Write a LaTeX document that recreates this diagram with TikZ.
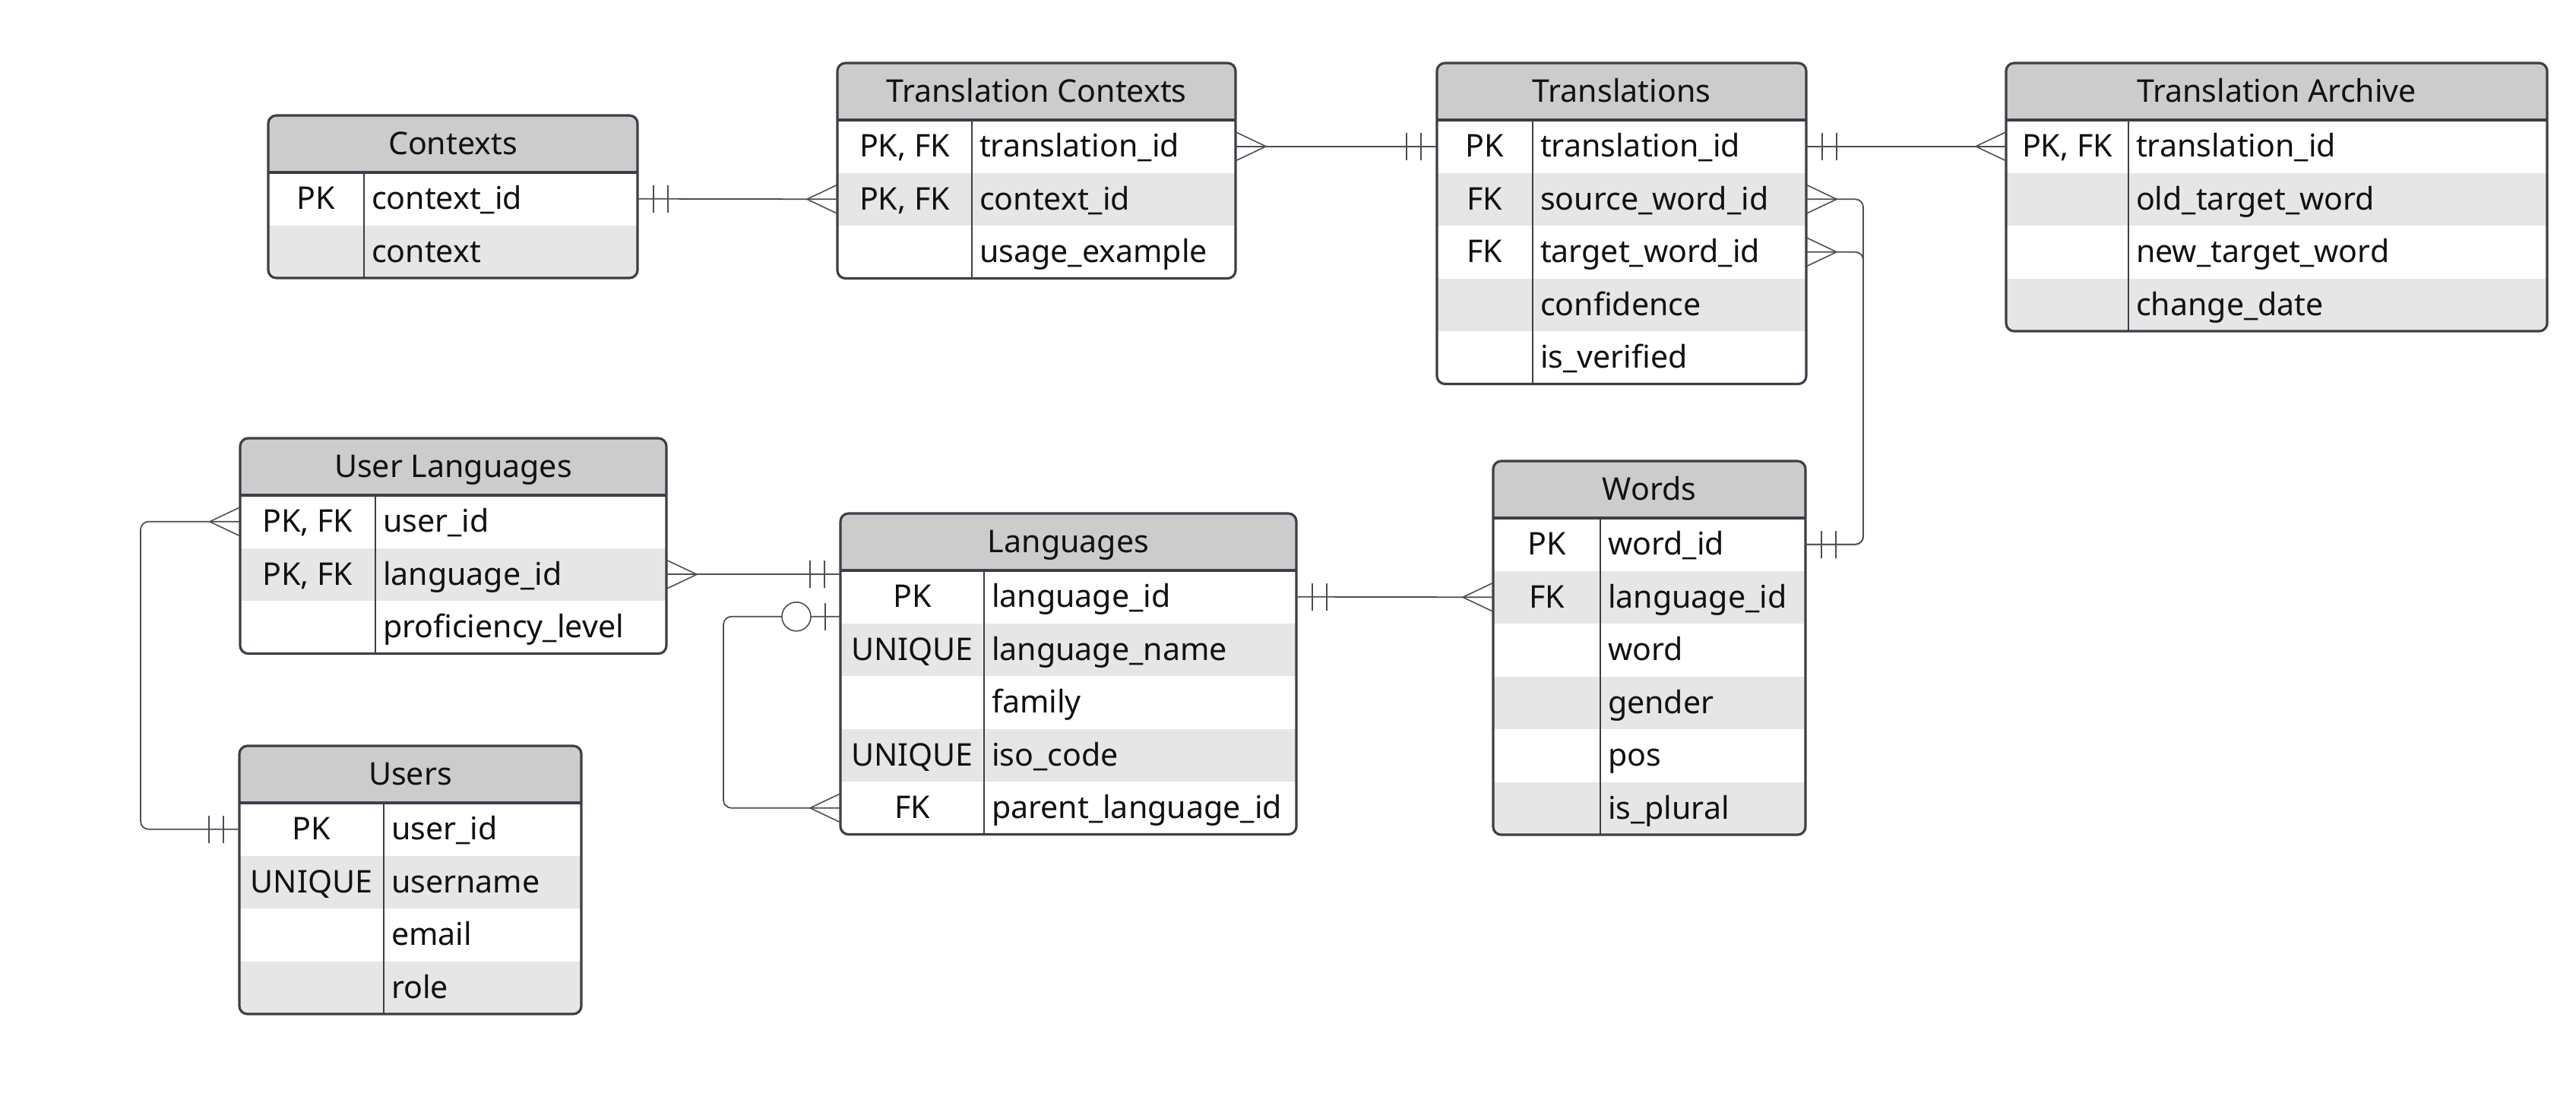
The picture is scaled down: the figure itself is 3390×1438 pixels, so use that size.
\documentclass[tikz,border=0pt]{standalone}
\usepackage{fontspec}
\setmainfont{Noto Sans}
\usetikzlibrary{calc}
\definecolor{bordc}{HTML}{3B3F47}
\definecolor{connc}{HTML}{4A4E55}
\definecolor{hdrfill}{HTML}{CCCCCC}
\definecolor{rowgray}{HTML}{E6E6E6}
\definecolor{txtc}{HTML}{111111}
\def\HH{75}
\def\RH{69.5}
\tikzset{
  tablebox/.style={draw=bordc, line width=0.9pt, rounded corners=3pt, inner sep=0pt, outer sep=0pt, fill=none},
  hdrline/.style={draw=bordc, line width=0.9pt},
  divline/.style={draw=bordc, line width=0.6pt},
  txt/.style={inner sep=0pt, outer sep=0pt, text height=0.80em, text depth=0pt, text=txtc, font=\fontsize{11.7}{13}\selectfont},
  conn/.style={draw=connc, line width=0.5pt, rounded corners=3pt},
  crowln/.style={draw=connc, line width=0.45pt},
  barln/.style={draw=connc, line width=0.45pt},
}
\newcommand\erdtable[7]{%
  \def\tN{#1}\def\tL{#2}\def\tT{#3}\def\tR{#4}\def\tD{#5}%
  \pgfmathsetmacro\tH{#3+\HH}%
  \pgfmathsetmacro\tB{#3+\HH+#6*\RH}%
  \pgfmathsetmacro\tw{(#4-#2)*0.01}%
  \pgfmathsetmacro\th{(\tB-#3)*0.01}%
  \begin{scope}
    \clip[rounded corners=3pt] (#2,#3) rectangle (#4,\tB);
    \fill[white] (#2,#3) rectangle (#4,\tB);
    \fill[hdrfill] (#2,#3) rectangle (#4,\tH);
    \foreach \i in {1,...,#6} {
      \ifodd\i\relax\else
        \pgfmathsetmacro\ya{\tH+(\i-1)*\RH}
        \pgfmathsetmacro\yb{\ya+\RH}
        \fill[rowgray] (#2,\ya) rectangle (#4,\yb);
      \fi
    }
  \end{scope}
  \draw[divline] (#5,\tH) -- (#5,\tB);
  \draw[hdrline] (#2,\tH) -- (#4,\tH);
  \node[tablebox, minimum width=\tw cm, minimum height=\th cm] (#1) at ({(#2+#4)/2},{(#3+\tB)/2}) {};
  \node[txt] (#1-title) at ({(#2+#4)/2},{#3+\HH/2}) {#7};
}
\newcommand\erdrow[3]{%
  \pgfmathsetmacro\yc{\tH+(#1-0.5)*\RH}%
  \if\relax\detokenize{#2}\relax\else
    \node[txt] (\tN-k#1) at ({(\tL+\tD)/2},\yc) {#2};
  \fi
  \node[txt, anchor=west] (\tN-f#1) at ({\tD+10},\yc) {#3};
  \coordinate (\tN-l#1) at (\tL,\yc);
  \coordinate (\tN-r#1) at (\tR,\yc);
}
% crow's foot: #1 point on box edge, #2 direction of tip (+1 right, -1 left)
\newcommand\crow[2]{%
  \draw[crowln] ($(#1)+(0,-19)$) -- ($(#1)+(#2*40,0)$) -- ($(#1)+(0,19)$);
}
\newcommand\dbar[2]{%
  \draw[barln] ($(#1)+(#2*21,-18)$) -- ($(#1)+(#2*21,18)$);
  \draw[barln] ($(#1)+(#2*40,-18)$) -- ($(#1)+(#2*40,18)$);
}
\begin{document}
\begin{tikzpicture}[x=0.01cm, y=-0.01cm]
\useasboundingbox (0,0) rectangle (3390,1438);
\fill[white] (0,0) rectangle (3390,1438);

% ---------- tables ----------
\erdtable{ctx}{353}{152}{839}{479}{2}{Contexts}
\erdrow{1}{PK}{context\_id}
\erdrow{2}{}{context}

\erdtable{tc}{1102}{83}{1626}{1279}{3}{Translation Contexts}
\erdrow{1}{PK, FK}{translation\_id}
\erdrow{2}{PK, FK}{context\_id}
\erdrow{3}{}{usage\_example}

\erdtable{tr}{1891}{83}{2377}{2017}{5}{Translations}
\erdrow{1}{PK}{translation\_id}
\erdrow{2}{FK}{source\_word\_id}
\erdrow{3}{FK}{target\_word\_id}
\erdrow{4}{}{confidence}
\erdrow{5}{}{is\_verified}

\erdtable{ar}{2640}{83}{3352}{2801}{4}{Translation Archive}
\erdrow{1}{PK, FK}{translation\_id}
\erdrow{2}{}{old\_target\_word}
\erdrow{3}{}{new\_target\_word}
\erdrow{4}{}{change\_date}

\erdtable{ul}{316}{577}{877}{494}{3}{User Languages}
\erdrow{1}{PK, FK}{user\_id}
\erdrow{2}{PK, FK}{language\_id}
\erdrow{3}{}{proficiency\_level}

\erdtable{us}{315}{982}{765}{505}{4}{Users}
\erdrow{1}{PK}{user\_id}
\erdrow{2}{UNIQUE}{username}
\erdrow{3}{}{email}
\erdrow{4}{}{role}

\erdtable{lg}{1106}{676}{1706}{1295}{5}{Languages}
\erdrow{1}{PK}{language\_id}
\erdrow{2}{UNIQUE}{language\_name}
\erdrow{3}{}{family}
\erdrow{4}{UNIQUE}{iso\_code}
\erdrow{5}{FK}{parent\_language\_id}

\erdtable{wd}{1965}{607}{2376}{2106}{6}{Words}
\erdrow{1}{PK}{word\_id}
\erdrow{2}{FK}{language\_id}
\erdrow{3}{}{word}
\erdrow{4}{}{gender}
\erdrow{5}{}{pos}
\erdrow{6}{}{is\_plural}

% ---------- connectors ----------
% Contexts -> Translation Contexts
\draw[conn] (ctx-r1) -- (tc-l2);
\dbar{ctx-r1}{1}
\crow{tc-l2}{-1}

% Translation Contexts -> Translations
\draw[conn] (tc-r1) -- (tr-l1);
\crow{tc-r1}{1}
\dbar{tr-l1}{-1}

% Translations -> Translation Archive
\draw[conn] (tr-r1) -- (ar-l1);
\dbar{tr-r1}{1}
\crow{ar-l1}{-1}

% Words -> Translations (source / target)
\coordinate (wdx) at ($(wd-r1)+(76,0)$);
\draw[conn] (wd-r1) -- (wdx) |- (tr-r2);
\draw[conn] (wd-r1) -- (wdx) |- (tr-r3);
\dbar{wd-r1}{1}
\crow{tr-r2}{1}
\crow{tr-r3}{1}

% Languages -> Words
\draw[conn] (lg-r1) -- (wd-l2);
\dbar{lg-r1}{1}
\crow{wd-l2}{-1}

% User Languages -> Languages
\coordinate (lgin) at (ul-r2 -| lg.west);
\draw[conn] (ul-r2) -- (lgin);
\crow{ul-r2}{1}
\dbar{lgin}{-1}

% User Languages -> Users
\draw[conn] (ul-l1) -- ++(-131,0) |- (us-l1);
\crow{ul-l1}{-1}
\dbar{us-l1}{-1}

% Languages self reference
\coordinate (lgself) at ($(lg-l1)+(0,26)$);
\draw[conn] (lgself) -- ++(-154,0) |- (lg-l5);
\draw[barln] ($(lgself)+(-20,-18)$) -- ($(lgself)+(-20,18)$);
\node[circle, draw=connc, fill=white, line width=0.45pt, minimum size=0.38cm, inner sep=0pt] (lgcirc) at ($(lgself)+(-58,0)$) {};
\crow{lg-l5}{-1}

\end{tikzpicture}
\end{document}
